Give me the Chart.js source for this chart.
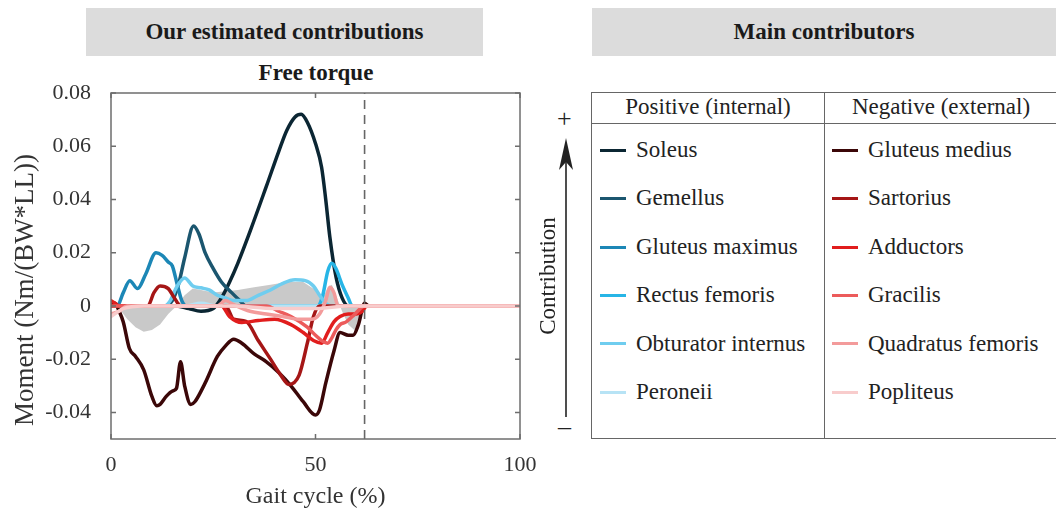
<!DOCTYPE html>
<html>
<head>
<meta charset="utf-8">
<script src="https://cdn.jsdelivr.net/npm/chart.js@4/dist/chart.umd.min.js"></script>
<style>
  body { margin: 0; background: #fff; font-family: "Liberation Serif", serif; color: #222; }
  #wrap { position: relative; width: 1056px; height: 515px; overflow: hidden; }
  #chart-box { position: absolute; left: 0; top: 0; width: 540px; height: 515px; }
  .head { position: absolute; top: 8px; height: 48px; background: #dcdcdc; font-weight: bold;
          font-size: 23px; line-height: 48px; text-align: center; color: #1a1a1a; }
  #sub { position: absolute; left: 196px; width: 240px; top: 60px; text-align: center; font-weight: bold; font-size: 23px; color: #1a1a1a; }
  #ytitle { position: absolute; left: -136px; top: 274px; width: 320px; height: 32px; line-height: 32px;
            text-align: center; font-size: 27px; color: #333; transform: rotate(-90deg); }
  #table { position: absolute; left: 591px; top: 92px; width: 470px; height: 345px; border: 1.5px solid #666; }
  #divider { position: absolute; left: 232px; top: 0; width: 0; height: 100%; border-left: 1.5px solid #666; }
  #hline { position: absolute; left: 0; top: 30px; width: 100%; border-top: 1.5px solid #666; }
  .colhead { position: absolute; top: 1px; width: 232px; text-align: center; font-size: 23px; }
  .row { position: absolute; font-size: 23px; height: 26px; line-height: 26px; white-space: nowrap; }
  .swatch { display: inline-block; width: 26px; height: 3px; vertical-align: middle; margin-right: 10px; margin-top: -3px; }
  #contrib { position: absolute; left: 478px; top: 263px; width: 140px; text-align: center; font-size: 23px;
             transform: rotate(-90deg); }
  .sign { position: absolute; font-size: 26px; }
</style>
</head>
<body>
<div id="wrap">
  <div class="head" style="left:86px; width:397px;">Our estimated contributions</div>
  <div class="head" style="left:592px; width:464px;">Main contributors</div>
  <div id="sub">Free torque</div>
  <div id="chart-box"><canvas id="chart" width="540" height="515"></canvas></div>
  <div id="ytitle">Moment (Nm/(BW*LL))</div>

  <div class="sign" style="left:557px; top:104px;">+</div>
  <div class="sign" style="left:558px; top:412px;">–</div>
  <svg style="position:absolute; left:556px; top:130px;" width="20" height="292">
    <line x1="10" y1="30" x2="10" y2="287" stroke="#222" stroke-width="1.6"/>
    <path d="M10 8 L3 40 L10 32 L17 40 Z" fill="#222"/>
  </svg>
  <div id="contrib">Contribution</div>

  <div id="table">
    <div id="hline"></div>
    <div id="divider"></div>
    <div class="colhead" style="left:0;">Positive (internal)</div>
    <div class="colhead" style="left:233px;">Negative (external)</div>
  </div>
</div>

<script>
// 보행 주기(%) 와 모멘트 값
const xTicks = [0, 50, 100];
const yTicks = [-0.04, -0.02, 0, 0.02, 0.04, 0.06, 0.08];
const stanceEnd = 62; // 점선 위치 (%)

const posNames = ['Soleus', 'Gemellus', 'Gluteus maximus', 'Rectus femoris', 'Obturator internus', 'Peroneii'];
const posColors = ['#0b2633', '#1b566f', '#1c87b6', '#27b5e6', '#6fcdef', '#b7e3f5'];
const negNames = ['Gluteus medius', 'Sartorius', 'Adductors', 'Gracilis', 'Quadratus femoris', 'Popliteus'];
const negColors = ['#3b0708', '#a51616', '#e11d1d', '#ec5b5b', '#f39b9b', '#f8cccc'];

// [gait %, moment]
const soleus = [[0,0],[10,0],[16,0],[19,-0.001],[22,-0.002],[25,-0.001],[27,0.003],[29,0.009],[31,0.016],[34,0.028],[38,0.045],[41,0.058],[43,0.066],[45,0.071],[46.5,0.072],[48,0.069],[50,0.061],[51.5,0.052],[52.5,0.040],[53.5,0.026],[55,0.011],[56.5,0.003],[58,0],[62,0],[100,0]];
const gemellus = [[0,0],[13,0],[15,0.002],[16.5,0.008],[18,0.018],[20.2,0.030],[21.5,0.027],[23,0.020],[25,0.014],[27,0.009],[29.5,0.005],[31.5,0.002],[33,0],[62,0],[100,0]];
const glutMax = [[0,0],[1.5,0],[3,0.005],[4.6,0.0095],[6.5,0.0065],[8.5,0.012],[11,0.020],[12.5,0.019],[14,0.0165],[15,0.015],[16.2,0.008],[17.3,0.002],[18.5,0],[62,0],[100,0]];
const rectusFem = [[0,0],[50.5,0],[51.7,0.0035],[53,0.013],[54,0.016],[55,0.014],[56.5,0.008],[58,0.003],[59,0],[100,0]];
const obturator = [[0,0],[13,0],[14.5,0.002],[16,0.007],[18,0.0105],[20,0.0075],[22,0.0068],[24,0.006],[26,0.004],[28,0.003],[30,0.002],[33,0.002],[36,0.004],[39,0.006],[42,0.0085],[45,0.0098],[47.5,0.0095],[49.5,0.0075],[51,0.004],[52.5,0.001],[54,0],[100,0]];
const peroneii = [[0,0],[18,0],[22,0.001],[26,0],[100,0]];

const glutMed = [[0,0],[1,0.001],[2,-0.002],[3,-0.006],[4.5,-0.016],[6,-0.019],[8,-0.024],[10,-0.034],[11.2,-0.0375],[12,-0.037],[13.5,-0.034],[15,-0.032],[16,-0.031],[17,-0.021],[18,-0.030],[19.5,-0.037],[20.5,-0.036],[23,-0.029],[26,-0.019],[28,-0.015],[30,-0.0125],[32,-0.014],[35,-0.018],[38,-0.021],[41,-0.025],[44,-0.030],[47,-0.036],[50,-0.041],[51,-0.039],[52.5,-0.029],[54.5,-0.017],[56,-0.010],[58,-0.011],[59.2,-0.011],[60.5,-0.007],[62,0.001],[63,0],[100,0]];
const sartorius = [[0,0],[9,0],[10.5,0.005],[12,0.0075],[14,0.0065],[15.5,0.003],[17,0],[28,0],[30,-0.005],[33,-0.0058],[36,-0.013],[39,-0.020],[41.5,-0.026],[43.5,-0.0295],[46,-0.026],[48,-0.014],[49.5,-0.004],[51,0],[100,0]];
const adductors = [[0,0.002],[1,0.001],[2,0],[27,0],[29,-0.004],[32,-0.0062],[36,-0.0055],[40,-0.005],[44,-0.007],[47,-0.010],[49.5,-0.013],[51.5,-0.014],[53,-0.010],[54.5,-0.006],[56,-0.004],[58,-0.003],[60,-0.003],[61.5,-0.002],[62.5,0],[100,0]];
const gracilis = [[0,0],[38,0],[41,-0.002],[44,-0.004],[48,-0.008],[50,-0.011],[52,-0.0135],[53,-0.014],[54,-0.012],[55,-0.009],[56,-0.007],[57.5,-0.006],[59,-0.004],[61,-0.001],[62,0],[100,0]];
const quadratus = [[0,-0.003],[2,-0.002],[4,0],[26,0],[28,0.002],[30,0.0005],[34,-0.002],[38,-0.003],[42,-0.004],[46,-0.005],[49,-0.005],[51,-0.003],[52.5,0.002],[53.5,0.007],[54.5,0.005],[55.5,0],[100,0]];
const popliteus = [[0,-0.004],[3,-0.001],[8,0],[30,0],[40,-0.001],[50,-0.001],[58,0],[100,0]];

// 회색 영역 (전체 free torque)
const totalTorque = [[0,0],[2,-0.001],[4,-0.005],[6,-0.008],[8,-0.0097],[10,-0.009],[12,-0.007],[14,-0.003],[16,0],[18,0.004],[20,0.0065],[22,0.006],[25,0.005],[28,0.0055],[31,0.006],[35,0.007],[39,0.008],[43,0.009],[47,0.009],[50,0.006],[51.5,0.002],[53,0.007],[54,0.008],[55,0.004],[56.5,-0.002],[58,-0.007],[59.5,-0.009],[61,-0.005],[62,0],[100,0]];

const allSeries = [soleus, gemellus, glutMax, rectusFem, obturator, peroneii,
                   glutMed, sartorius, adductors, gracilis, quadratus, popliteus];
const allNames = posNames.concat(negNames);
const allColors = posColors.concat(negColors);

const serif = 'Liberation Serif';
const toPts = arr => arr.map(p => ({ x: p[0], y: p[1] }));

// 범례 표 만들기
const table = document.getElementById('table');
function addRows(names, colors, left) {
  names.forEach((name, i) => {
    const row = document.createElement('div');
    row.className = 'row';
    row.style.left = left + 'px';
    row.style.top = (44 + i * 48.4) + 'px';
    row.innerHTML = `<span class="swatch" style="background:${colors[i]}"></span>${name}`;
    table.appendChild(row);
  });
}
addRows(posNames, posColors, 8);
addRows(negNames, negColors, 240);

// 데이터셋
const datasets = [];
datasets.push({
  label: 'total', data: toPts(totalTorque), fill: 'origin', backgroundColor: '#c9c9c9',
  borderWidth: 0, pointRadius: 0, order: 50, tension: 0
});
allSeries.forEach((s, i) => {
  datasets.push({
    label: allNames[i], data: toPts(s), borderColor: allColors[i], borderWidth: 3.5,
    pointRadius: 0, fill: false, cubicInterpolationMode: 'monotone',
    borderJoinStyle: 'round', borderCapStyle: 'round', order: 20 - i
  });
});
datasets.push({
  label: 'stance', data: [{ x: stanceEnd, y: -0.05 }, { x: stanceEnd, y: 0.08 }],
  borderColor: '#666', borderWidth: 1.6, borderDash: [9, 6], pointRadius: 0, order: 0
});

// 박스와 안쪽 눈금
const boxPlugin = {
  id: 'box',
  afterDatasetsDraw(chart) {
    const { ctx, chartArea: a, scales } = chart;
    ctx.save();
    ctx.strokeStyle = '#6e6e6e';
    ctx.lineWidth = 1.5;
    ctx.strokeRect(a.left, a.top, a.right - a.left, a.bottom - a.top);
    ctx.beginPath();
    xTicks.forEach(v => {
      const px = scales.x.getPixelForValue(v);
      ctx.moveTo(px, a.bottom); ctx.lineTo(px, a.bottom - 5);
      ctx.moveTo(px, a.top); ctx.lineTo(px, a.top + 5);
    });
    yTicks.forEach(v => {
      const py = scales.y.getPixelForValue(v);
      ctx.moveTo(a.left, py); ctx.lineTo(a.left + 5, py);
      ctx.moveTo(a.right, py); ctx.lineTo(a.right - 5, py);
    });
    ctx.stroke();
    ctx.restore();
  }
};

new Chart(document.getElementById('chart'), {
  type: 'line',
  data: { datasets },
  plugins: [boxPlugin],
  options: {
    responsive: false,
    animation: false,
    layout: { padding: { top: 93, right: 20, left: 0, bottom: 0 } },
    plugins: {
      legend: { display: false },
      tooltip: { enabled: false },
      filler: { drawTime: 'beforeDatasetsDraw' }
    },
    scales: {
      x: {
        type: 'linear', min: 0, max: 100,
        afterBuildTicks: s => { s.ticks = xTicks.map(v => ({ value: v })); },
        afterFit: s => { s.height = 76; s.paddingLeft = 0; s.paddingRight = 0; },
        grid: { display: false, drawTicks: false },
        border: { display: false },
        ticks: { font: { family: serif, size: 22 }, color: '#333', padding: 13 },
        title: { display: true, text: 'Gait cycle (%)', font: { family: serif, size: 24 }, color: '#333', padding: { top: 8 } }
      },
      y: {
        type: 'linear', min: -0.05, max: 0.08,
        afterBuildTicks: s => { s.ticks = yTicks.map(v => ({ value: v })); },
        afterFit: s => { s.width = 111; s.paddingTop = 0; s.paddingBottom = 0; },
        grid: { display: false, drawTicks: false },
        border: { display: false },
        ticks: {
          font: { family: serif, size: 22 }, color: '#333', padding: 20,
          callback: v => v === 0 ? '0' : v.toFixed(2)
        }
      }
    }
  }
});
</script>
</body>
</html>
